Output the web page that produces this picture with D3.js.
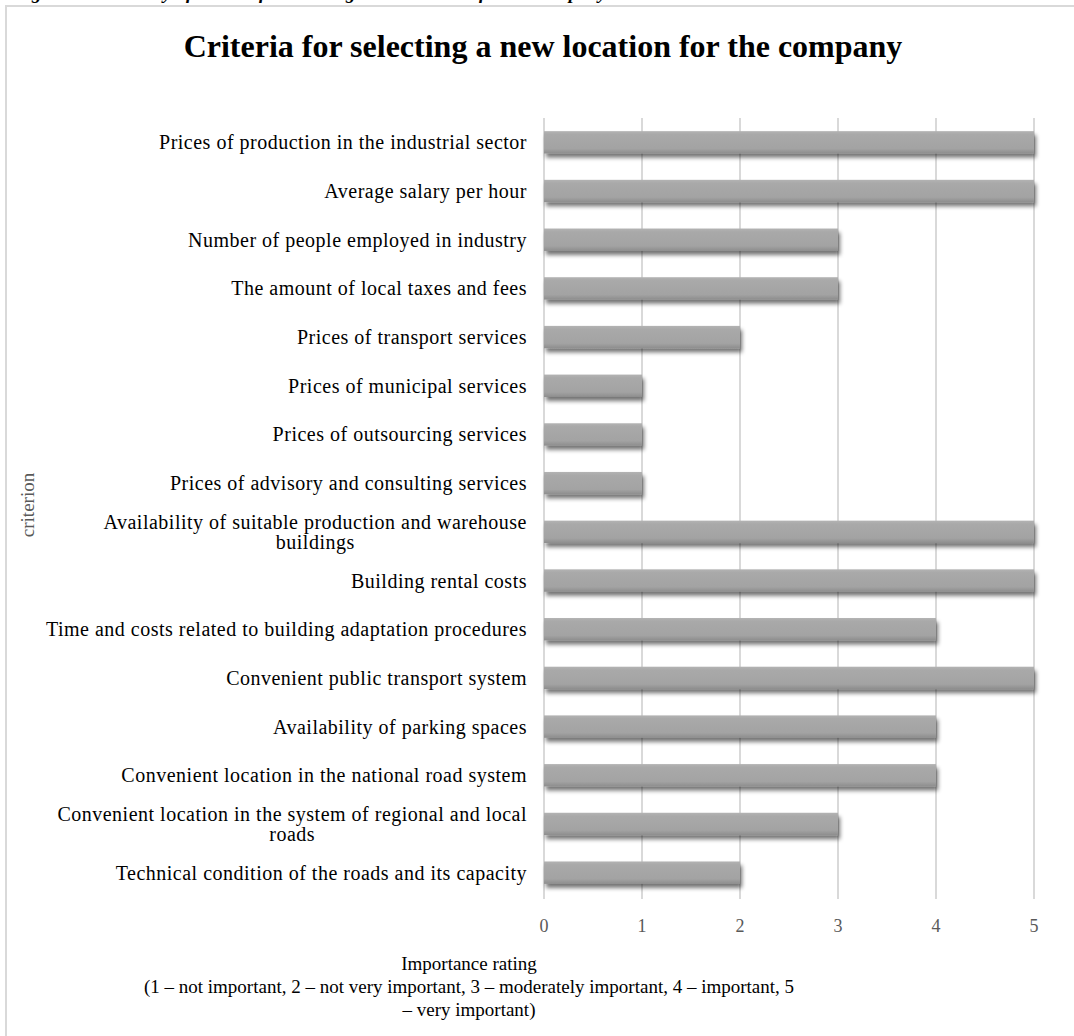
<!DOCTYPE html>
<html><head><meta charset="utf-8">
<script src="https://cdn.jsdelivr.net/npm/d3@7"></script>
<style>
html,body{margin:0;padding:0;background:#fff;}
svg{display:block;}
</style></head>
<body>
<svg id="chart" width="1074" height="1036"></svg>
<script>
const categories = [
  "Prices of production in the industrial sector",
  "Average salary per hour",
  "Number of people employed in industry",
  "The amount of local taxes and fees",
  "Prices of transport services",
  "Prices of municipal services",
  "Prices of outsourcing services",
  "Prices of advisory and consulting services",
  "Availability of suitable production and warehouse\nbuildings",
  "Building rental costs",
  "Time and costs related to building adaptation procedures",
  "Convenient public transport system",
  "Availability of parking spaces",
  "Convenient location in the national road system",
  "Convenient location in the system of regional and local\nroads",
  "Technical condition of the roads and its capacity"
];
const ratings = [5,5,3,3,2,1,1,1,5,5,4,5,4,4,3,2];
const xTicks = [0,1,2,3,4,5];
const titleText = "Criteria for selecting a new location for the company";
const captionText = "Figure 3. Hierarchy of criteria for selecting a new location for the company";
const yAxisTitle = "criterion";
const xAxisTitle = ["Importance rating",
  "(1 \u2013 not important, 2 \u2013 not very important, 3 \u2013 moderately important, 4 \u2013 important, 5",
  "\u2013 very important)"];

const svg = d3.select("#chart");
const serif = "'Liberation Serif','Times New Roman',serif";

// defs: gradient + shadow
const defs = svg.append("defs");
const grad = defs.append("linearGradient").attr("id","barGrad").attr("x1",0).attr("y1",0).attr("x2",0).attr("y2",1);
grad.append("stop").attr("offset","0%").attr("stop-color","#b3b3b3");
grad.append("stop").attr("offset","15%").attr("stop-color","#a9a9a9");
grad.append("stop").attr("offset","78%").attr("stop-color","#a3a3a3");
grad.append("stop").attr("offset","100%").attr("stop-color","#8d8d8d");
const f = defs.append("filter").attr("id","shadow").attr("x","-5%").attr("y","-30%").attr("width","110%").attr("height","190%");
f.append("feGaussianBlur").attr("in","SourceAlpha").attr("stdDeviation",2.2).attr("result","b");
f.append("feOffset").attr("in","b").attr("dx",2).attr("dy",3.5).attr("result","o");
f.append("feComponentTransfer").attr("in","o").attr("result","s")
  .append("feFuncA").attr("type","linear").attr("slope",0.55);
const m = f.append("feMerge");
m.append("feMergeNode").attr("in","s");
m.append("feMergeNode").attr("in","SourceGraphic");

// caption (cut off at top of the picture, as in the reference)
svg.append("text").attr("x",14).attr("y",-1)
  .attr("font-family",serif).attr("font-weight","bold").attr("font-style","italic")
  .attr("font-size",19).attr("fill","#000").text(captionText);

// chart border
svg.append("path").attr("d","M6,1036 V6 H1074").attr("fill","none")
  .attr("stroke","#d9d9d9").attr("stroke-width",2);

// title
svg.append("text").attr("x",543).attr("y",57).attr("text-anchor","middle")
  .attr("font-family",serif).attr("font-weight","bold").attr("font-size",32)
  .attr("fill","#000").text(titleText);

const x = d3.scaleLinear().domain([0,5]).range([544,1034]);
const y = d3.scaleBand().domain(categories).range([118,897]).paddingInner(0.54).paddingOuter(0.27);

// gridlines
svg.append("g").selectAll("line").data(xTicks).join("line")
  .attr("x1",d=>x(d)).attr("x2",d=>x(d)).attr("y1",118).attr("y2",899)
  .attr("stroke","#d9d9d9").attr("stroke-width",2);

// bars
svg.append("g").attr("filter","url(#shadow)").selectAll("rect").data(categories).join("rect")
  .attr("x",x(0)).attr("y",d=>y(d))
  .attr("width",(d,i)=>x(ratings[i])-x(0)).attr("height",y.bandwidth())
  .attr("fill","url(#barGrad)");

// category labels
const lab = svg.append("g").selectAll("text").data(categories).join("text")
  .attr("font-family",serif).attr("font-size",20).attr("letter-spacing",0.5).attr("fill","#000")
  .attr("text-anchor","middle");
lab.each(function(d){
  const lines = d.split("\n");
  const t = d3.select(this);
  const lh = 20;
  const cy = y(d) + y.bandwidth()/2;
  const y0 = cy - (lines.length-1)*lh/2 + 7;
  lines.forEach((ln,k)=>{
    t.append("tspan").attr("y",y0+k*lh).text(ln);
  });
  const widths = [];
  t.selectAll("tspan").each(function(){ widths.push(this.getComputedTextLength()); });
  const w = d3.max(widths);
  const cx = 527 - w/2;
  t.selectAll("tspan").attr("x",cx);
});

// x tick labels
svg.append("g").selectAll("text").data(xTicks).join("text")
  .attr("x",d=>x(d)).attr("y",932).attr("text-anchor","middle")
  .attr("font-family",serif).attr("font-size",18).attr("fill","#595959")
  .text(d=>d);

// y axis title
svg.append("text").attr("transform","translate(34,505) rotate(-90)")
  .attr("text-anchor","middle").attr("font-family",serif).attr("font-size",19)
  .attr("fill","#595959").text(yAxisTitle);

// x axis title
svg.append("g").selectAll("text").data(xAxisTitle).join("text")
  .attr("x",469).attr("y",(d,i)=>970+i*23).attr("text-anchor","middle")
  .attr("font-family",serif).attr("font-size",19).attr("fill","#000")
  .text(d=>d);
</script>
</body></html>
